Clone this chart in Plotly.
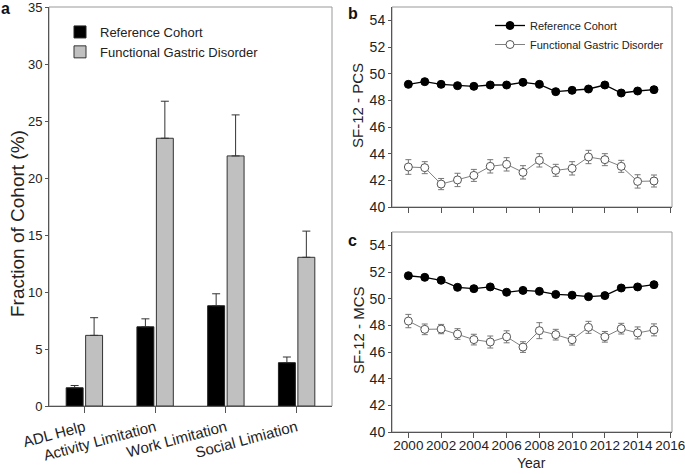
import plotly.graph_objects as go

# panel a data
categories = ["ADL Help", "Activity Limitation", "Work Limitation", "Social Limiation"]
ref_frac = [1.6, 6.95, 8.8, 3.8]
ref_frac_err = [0.2, 0.7, 1.05, 0.5]
fgd_frac = [6.2, 23.5, 21.95, 13.05]
fgd_frac_err = [1.55, 3.25, 3.6, 2.3]
frac_ticks = [0, 5, 10, 15, 20, 25, 30, 35]

# panels b / c data
years = list(range(2000, 2016))
ref_pcs = [49.2, 49.4, 49.2, 49.1, 49.05, 49.15, 49.15, 49.35, 49.2, 48.65, 48.75, 48.85, 49.15, 48.55, 48.7, 48.8]
fgd_pcs = [43.0, 42.95, 41.72, 42.03, 42.37, 43.05, 43.2, 42.6, 43.5, 42.75, 42.9, 43.75, 43.55, 43.05, 41.92, 41.95]
fgd_pcs_err = [0.55, 0.45, 0.42, 0.5, 0.45, 0.5, 0.5, 0.5, 0.5, 0.45, 0.5, 0.5, 0.45, 0.45, 0.5, 0.45]
ref_mcs = [51.72, 51.6, 51.38, 50.85, 50.75, 50.88, 50.48, 50.62, 50.55, 50.32, 50.26, 50.15, 50.23, 50.8, 50.88, 51.05]
fgd_mcs = [48.32, 47.7, 47.72, 47.35, 46.93, 46.75, 47.14, 46.37, 47.6, 47.3, 46.92, 47.85, 47.14, 47.75, 47.43, 47.66]
fgd_mcs_err = [0.5, 0.4, 0.35, 0.4, 0.4, 0.45, 0.45, 0.4, 0.6, 0.4, 0.4, 0.45, 0.4, 0.4, 0.45, 0.45]
year_ticks = list(range(2000, 2017, 2))
score_ticks = list(range(40, 55, 2))

FONT = "Arial, Liberation Sans, sans-serif"
W, H = 685, 474

def px(x0, x1):
    return [x0 / W, x1 / W]

def py(top, bottom):
    return [1 - bottom / H, 1 - top / H]

fig = go.Figure()

# --- panel a: bars
fig.add_trace(go.Bar(x=categories, y=ref_frac, name="Reference Cohort",
                     marker=dict(color="black", line=dict(color="#222", width=1)),
                     error_y=dict(type="data", array=ref_frac_err, arrayminus=[0] * 4,
                                  symmetric=False, color="#333", thickness=1, width=4),
                     xaxis="x", yaxis="y", legend="legend"))
fig.add_trace(go.Bar(x=categories, y=fgd_frac, name="Functional Gastric Disorder",
                     marker=dict(color="#c0c0c0", line=dict(color="#333", width=1)),
                     error_y=dict(type="data", array=fgd_frac_err, arrayminus=[0] * 4,
                                  symmetric=False, color="#333", thickness=1, width=4),
                     xaxis="x", yaxis="y", legend="legend"))

# --- panels b and c: lines
def add_lines(xa, ya, ref, fgd, fgd_err, show):
    fig.add_trace(go.Scatter(x=years, y=ref, mode="lines+markers", name="Reference Cohort",
                             line=dict(color="black", width=1.3),
                             marker=dict(color="black", size=8, line=dict(color="black", width=1)),
                             xaxis=xa, yaxis=ya, legend="legend2", showlegend=show))
    fig.add_trace(go.Scatter(x=years, y=fgd, mode="lines+markers", name="Functional Gastric Disorder",
                             line=dict(color="#808080", width=1),
                             marker=dict(color="white", size=8, line=dict(color="#555", width=1)),
                             error_y=dict(type="data", array=fgd_err, color="#777", thickness=1, width=3),
                             xaxis=xa, yaxis=ya, legend="legend2", showlegend=show))

add_lines("x2", "y2", ref_pcs, fgd_pcs, fgd_pcs_err, True)
add_lines("x3", "y3", ref_mcs, fgd_mcs, fgd_mcs_err, False)

def axis(**kw):
    d = dict(showline=True, linecolor="#555", linewidth=1, ticks="outside",
             tickcolor="#555", showgrid=False, zeroline=False, automargin=False,
             ticklabeloverflow="allow",
             tickfont=dict(family=FONT, size=14, color="#222"))
    d.update(kw)
    return d

fig.update_layout(
    width=W, height=H, margin=dict(l=0, r=0, t=0, b=0),
    paper_bgcolor="white", plot_bgcolor="white",
    font=dict(family=FONT, color="#222"),
    barmode="group", bargap=0.45, bargroupgap=0.13,
    xaxis=axis(domain=px(49, 332), anchor="y", range=[-0.5, 3.5], ticklen=6,
               tickangle=-15, tickfont=dict(family=FONT, size=15, color="#222")),
    yaxis=axis(domain=py(7, 406), anchor="x", range=[0, 35.02], tickvals=frac_ticks, ticklen=3,
               tickfont=dict(family=FONT, size=13, color="#222")),
    xaxis2=axis(domain=px(392, 672), anchor="y2", range=[1999, 2016.1], tickvals=year_ticks,
                showticklabels=False, ticklen=5),
    yaxis2=axis(domain=py(7, 207), anchor="x2", range=[40, 55], tickvals=score_ticks, ticklen=3),
    xaxis3=axis(domain=px(392, 672), anchor="y3", range=[1999, 2016.1], tickvals=year_ticks,
                ticklen=5, tickangle=0, ticklabelstandoff=-4,
                tickfont=dict(family=FONT, size=13.5, color="#222")),
    yaxis3=axis(domain=py(232, 432), anchor="x3", range=[40, 55], tickvals=score_ticks, ticklen=3),
    legend=dict(x=60 / W, y=1 - 17 / H, xanchor="left", yanchor="top",
                bgcolor="rgba(0,0,0,0)", font=dict(family=FONT, size=13, color="#222"),
                tracegroupgap=0, itemwidth=30),
    legend2=dict(x=490 / W, y=1 - 11 / H, xanchor="left", yanchor="top",
                 bgcolor="rgba(0,0,0,0)", font=dict(family=FONT, size=11, color="#222"),
                 tracegroupgap=0, itemwidth=30),
)

# light frame (top/right edges) around each panel
for xr, yr in [("x", "y"), ("x2", "y2"), ("x3", "y3")]:
    fig.add_shape(type="rect", xref=xr + " domain", yref=yr + " domain",
                  x0=0, x1=1, y0=0, y1=1, line=dict(color="#999", width=1), layer="below")

def label(text, x, y, size, angle=0, color="#222"):
    fig.add_annotation(text=text, x=x / W, y=1 - y / H, xref="paper", yref="paper",
                       textangle=angle, showarrow=False, xanchor="center", yanchor="middle",
                       font=dict(family=FONT, size=size, color=color))

label("<b>a</b>", 5, 9, 16, color="#111")
label("<b>b</b>", 353, 14, 16, color="#111")
label("<b>c</b>", 353, 240, 16, color="#111")
label("Fraction of Cohort (%)", 17, 224, 19, angle=-90)
label("SF-12 - PCS", 358, 106, 15, angle=-90)
label("SF-12 - MCS", 358, 330, 15, angle=-90)
label("Year", 531, 463, 14)

# remove the default page margin so the figure fills the window exactly
fig.write_html("out.html", config={"displayModeBar": False},
               post_script="document.body.style.margin='0';")
